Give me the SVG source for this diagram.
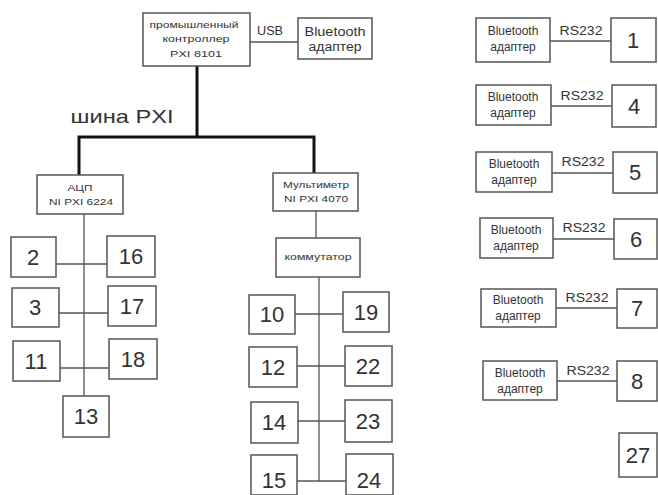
<svg xmlns="http://www.w3.org/2000/svg" width="658" height="495" viewBox="0 0 658 495">
<style>
.b{fill:#fff;stroke:#555;stroke-width:1.5}
.c{stroke:#555;stroke-width:1.3;fill:none}
.bus{stroke:#111;stroke-width:3;fill:none}
text{font-family:"Liberation Sans",Arial,sans-serif;fill:#333;text-anchor:middle}
.n{font-size:22px}
.s{font-size:12px}
.t{font-size:9px}
.r{font-size:12px}
</style>
<rect width="658" height="495" fill="#fff"/>
<g id="connectors">
<polyline class="bus" points="197,66 197,137"/>
<polyline class="bus" points="79,175 79,137 314,137 314,173"/>
<line class="c" x1="250" y1="42" x2="298" y2="42"/>
<line class="c" x1="84" y1="214" x2="84" y2="396"/>
<line class="c" x1="56" y1="264" x2="107" y2="264"/>
<line class="c" x1="59" y1="313" x2="108" y2="313"/>
<line class="c" x1="60" y1="368" x2="109" y2="368"/>
<line class="c" x1="316" y1="211" x2="316" y2="238"/>
<line class="c" x1="319" y1="277" x2="319" y2="481"/>
<line class="c" x1="295" y1="314" x2="343" y2="314"/>
<line class="c" x1="297" y1="366" x2="345" y2="366"/>
<line class="c" x1="298" y1="421" x2="345" y2="421"/>
<line class="c" x1="297" y1="481" x2="346" y2="481"/>
<line class="c" x1="550" y1="41" x2="611" y2="41"/>
<line class="c" x1="551" y1="106" x2="612" y2="106"/>
<line class="c" x1="552" y1="173" x2="613" y2="173"/>
<line class="c" x1="553" y1="239" x2="614" y2="239"/>
<line class="c" x1="556" y1="308" x2="617" y2="308"/>
<line class="c" x1="557" y1="381" x2="617" y2="381"/>
<text x="270" y="35" class="s" textLength="26" lengthAdjust="spacingAndGlyphs">USB</text>
<text x="122" y="123" style="font-size:19px" textLength="103" lengthAdjust="spacingAndGlyphs">шина PXI</text>
<text x="581" y="35" class="r" textLength="43" lengthAdjust="spacingAndGlyphs">RS232</text>
<text x="582" y="100" class="r" textLength="43" lengthAdjust="spacingAndGlyphs">RS232</text>
<text x="583" y="166" class="r" textLength="43" lengthAdjust="spacingAndGlyphs">RS232</text>
<text x="584" y="232" class="r" textLength="43" lengthAdjust="spacingAndGlyphs">RS232</text>
<text x="587" y="302" class="r" textLength="43" lengthAdjust="spacingAndGlyphs">RS232</text>
<text x="588" y="375" class="r" textLength="43" lengthAdjust="spacingAndGlyphs">RS232</text>
</g>
<g id="controller"><rect class="b" x="143" y="13" width="107" height="53"/>
<text x="194" y="28" class="t" textLength="89" lengthAdjust="spacingAndGlyphs">промышленный</text>
<text x="196" y="42" class="t" textLength="67" lengthAdjust="spacingAndGlyphs">контроллер</text>
<text x="196" y="57" class="t" textLength="52" lengthAdjust="spacingAndGlyphs">PXI 8101</text></g>
<g id="bt_top"><rect class="b" x="298" y="18" width="74" height="41"/>
<text x="335" y="36" class="s" textLength="61" lengthAdjust="spacingAndGlyphs">Bluetooth</text>
<text x="335" y="51" class="s" textLength="53" lengthAdjust="spacingAndGlyphs">адаптер</text></g>
<g id="adc"><rect class="b" x="37" y="175" width="86" height="39"/>
<text x="80" y="191" class="t" textLength="25" lengthAdjust="spacingAndGlyphs">АЦП</text>
<text x="81" y="205" class="t" textLength="64" lengthAdjust="spacingAndGlyphs">NI PXI 6224</text></g>
<g id="multimeter"><rect class="b" x="273" y="173" width="85" height="38"/>
<text x="316" y="188" class="t" textLength="66" lengthAdjust="spacingAndGlyphs">Мультиметр</text>
<text x="316" y="202" class="t" textLength="64" lengthAdjust="spacingAndGlyphs">NI PXI 4070</text></g>
<g id="commutator"><rect class="b" x="276" y="238" width="84" height="39"/>
<text x="318" y="260" class="t" textLength="67" lengthAdjust="spacingAndGlyphs">коммутатор</text></g>
<g id="n2"><rect class="b" x="11" y="237" width="45" height="40"/><text x="33" y="265" class="n">2</text></g>
<g id="n16"><rect class="b" x="107" y="236" width="48" height="41"/><text x="131" y="264" class="n">16</text></g>
<g id="n3"><rect class="b" x="12" y="288" width="47" height="39"/><text x="35" y="315" class="n">3</text></g>
<g id="n17"><rect class="b" x="108" y="286" width="48" height="40"/><text x="132" y="314" class="n">17</text></g>
<g id="n11"><rect class="b" x="13" y="341" width="47" height="40"/><text x="36" y="369" class="n">11</text></g>
<g id="n18"><rect class="b" x="109" y="339" width="48" height="40"/><text x="133" y="367" class="n">18</text></g>
<g id="n13"><rect class="b" x="63" y="396" width="46" height="41"/><text x="86" y="424" class="n">13</text></g>
<g id="n10"><rect class="b" x="249" y="295" width="46" height="39"/><text x="272" y="322" class="n">10</text></g>
<g id="n19"><rect class="b" x="343" y="292" width="46" height="40"/><text x="366" y="320" class="n">19</text></g>
<g id="n12"><rect class="b" x="249" y="347" width="48" height="40"/><text x="273" y="375" class="n">12</text></g>
<g id="n22"><rect class="b" x="345" y="346" width="47" height="40"/><text x="368" y="374" class="n">22</text></g>
<g id="n14"><rect class="b" x="251" y="402" width="47" height="41"/><text x="274" y="430" class="n">14</text></g>
<g id="n23"><rect class="b" x="345" y="400" width="47" height="42"/><text x="368" y="429" class="n">23</text></g>
<g id="n15"><rect class="b" x="251" y="455" width="46" height="40"/><text x="274" y="488" class="n">15</text></g>
<g id="n24"><rect class="b" x="346" y="454" width="47" height="41"/><text x="369" y="488" class="n">24</text></g>
<g id="bt1"><rect class="b" x="476" y="18" width="74" height="44"/>
<text x="513" y="35" class="s">Bluetooth</text><text x="513" y="51" class="s">адаптер</text></g>
<g id="n1"><rect class="b" x="611" y="18" width="45" height="44"/><text x="633" y="48" class="n">1</text></g>
<g id="bt4"><rect class="b" x="476" y="85" width="75" height="40"/>
<text x="513" y="101" class="s">Bluetooth</text><text x="513" y="117" class="s">адаптер</text></g>
<g id="n4"><rect class="b" x="612" y="85" width="44" height="42"/><text x="634" y="114" class="n">4</text></g>
<g id="bt5"><rect class="b" x="476" y="152" width="76" height="40"/>
<text x="514" y="168" class="s">Bluetooth</text><text x="514" y="184" class="s">адаптер</text></g>
<g id="n5"><rect class="b" x="613" y="152" width="44" height="41"/><text x="635" y="180" class="n">5</text></g>
<g id="bt6"><rect class="b" x="480" y="218" width="73" height="40"/>
<text x="516" y="234" class="s">Bluetooth</text><text x="516" y="250" class="s">адаптер</text></g>
<g id="n6"><rect class="b" x="614" y="219" width="43" height="40"/><text x="636" y="247" class="n">6</text></g>
<g id="bt7"><rect class="b" x="481" y="289" width="75" height="38"/>
<text x="518" y="304" class="s">Bluetooth</text><text x="518" y="320" class="s">адаптер</text></g>
<g id="n7"><rect class="b" x="617" y="289" width="40" height="39"/><text x="637" y="316" class="n">7</text></g>
<g id="bt8"><rect class="b" x="483" y="361" width="74" height="39"/>
<text x="520" y="377" class="s">Bluetooth</text><text x="520" y="393" class="s">адаптер</text></g>
<g id="n8"><rect class="b" x="617" y="361" width="40" height="40"/><text x="637" y="389" class="n">8</text></g>
<g id="n27"><rect class="b" x="619" y="433" width="38" height="44"/><text x="638" y="463" class="n">27</text></g>
</svg>
